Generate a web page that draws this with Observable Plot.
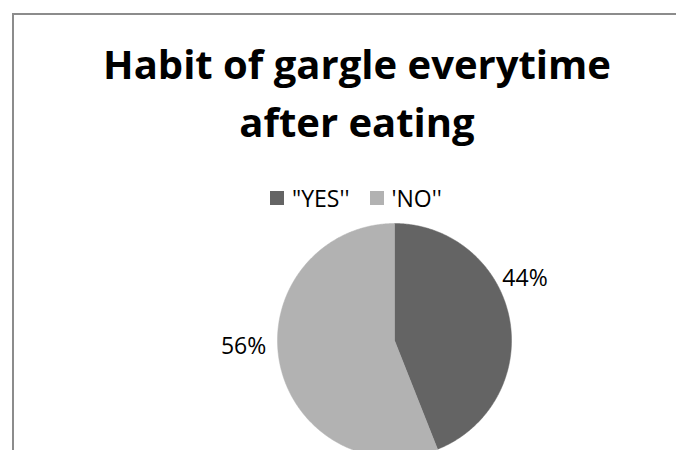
<!DOCTYPE html>
<html>
<head>
<meta charset="utf-8">
<script src="https://cdn.jsdelivr.net/npm/d3@7"></script>
<script src="https://cdn.jsdelivr.net/npm/@observablehq/plot@0.6"></script>
<style>
  html, body { margin: 0; padding: 0; background: #fff; }
  #page { position: relative; width: 676px; height: 450px; overflow: hidden; background: #fff; }
  #frame { position: absolute; left: 12px; top: 13px; width: 900px; height: 700px;
           border-top: 2px solid #8c8c8c; border-left: 2px solid #8c8c8c; box-sizing: border-box; }
  #title { position: absolute; left: 0; top: 35px; width: 714px; text-align: center;
           font-family: "Open Sans", sans-serif; font-weight: 700; font-size: 40px; line-height: 58px; color: #000; }
  #legend { position: absolute; left: 270px; top: 183px; display: flex; align-items: center;
            font-family: "Open Sans", sans-serif; font-size: 23px; line-height: 30px; color: #000; }
  #legend .item { display: flex; align-items: center; margin-right: 20px; }
  #legend .sw { width: 14px; height: 14px; margin-right: 8px; }
  #chart { position: absolute; left: 0; top: 215px; }
</style>
</head>
<body>
<div id="page">
  <div id="frame"></div>
  <div id="title"></div>
  <div id="legend"></div>
  <div id="chart"></div>
</div>
<script>
const titleLines = ["Habit of gargle everytime", "after eating"];
const categories = ["\"YES''", "'NO''"];
const values = [44, 56];
const labels = ["44%", "56%"];
const colors = ["#646464", "#b2b2b2"];

// title
const titleEl = document.getElementById("title");
titleLines.forEach((t, i) => {
  if (i) titleEl.appendChild(document.createElement("br"));
  titleEl.appendChild(document.createTextNode(t));
});

// legend
const legendEl = document.getElementById("legend");
categories.forEach((c, i) => {
  const item = document.createElement("div");
  item.className = "item";
  const sw = document.createElement("span");
  sw.className = "sw";
  sw.style.background = colors[i];
  const tx = document.createElement("span");
  tx.textContent = c;
  item.appendChild(sw);
  item.appendChild(tx);
  legendEl.appendChild(item);
});

// pie geometry (unit radius, angle clockwise from 12 o'clock)
const W = 676, H = 235, R = 117, cx = 394, cy = 125;
const arcs = d3.pie().sort(null).value(d => d)(values);
const slices = [];
arcs.forEach((a, i) => {
  const pts = [{x: 0, y: 0, cat: categories[i]}];
  const n = Math.max(2, Math.ceil((a.endAngle - a.startAngle) / (Math.PI / 360)));
  for (let k = 0; k <= n; k++) {
    const t = a.startAngle + (a.endAngle - a.startAngle) * k / n;
    pts.push({x: Math.sin(t), y: Math.cos(t), cat: categories[i]});
  }
  pts.push({x: 0, y: 0, cat: categories[i]});
  slices.push(pts);
});

// label placement (best-fit style, outside the pie)
const labelAngleTweak = [-14.6, 8.5];
const labelRadius = [1.235, 1.291];
const labelData = arcs.map((a, i) => {
  const t = (a.startAngle + a.endAngle) / 2 + labelAngleTweak[i] * Math.PI / 180;
  return {x: labelRadius[i] * Math.sin(t), y: labelRadius[i] * Math.cos(t), text: labels[i]};
});

const plot = Plot.plot({
  width: W,
  height: H,
  margin: 0,
  x: {type: "linear", domain: [-cx / R, (W - cx) / R], range: [0, W], axis: null},
  y: {type: "linear", domain: [-(H - cy) / R, cy / R], range: [H, 0], axis: null},
  style: {background: "transparent"},
  marks: [
    ...slices.map((pts, i) => Plot.line(pts, {x: "x", y: "y", fill: colors[i], stroke: colors[i], strokeWidth: 0.5, curve: "linear"})),
    Plot.text(labelData, {x: "x", y: "y", text: "text", fontSize: 23, fontFamily: "Open Sans, sans-serif", fill: "#000"})
  ]
});
document.getElementById("chart").appendChild(plot);
</script>
</body>
</html>
